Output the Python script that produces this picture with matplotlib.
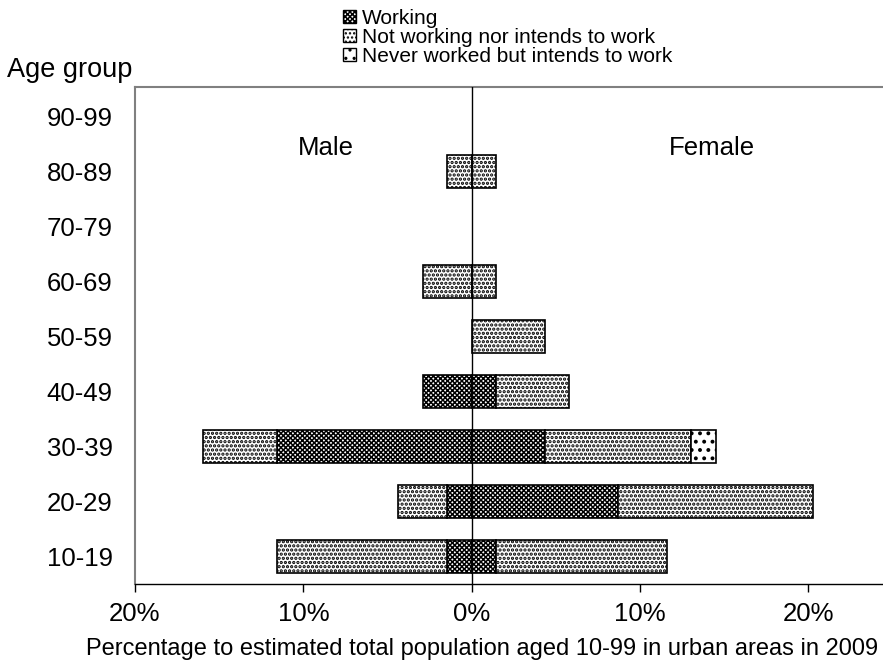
import matplotlib
matplotlib.use("Agg")
import matplotlib.pyplot as plt
from matplotlib.patches import Patch
import numpy as np

plt.rcParams['font.family'] = ['Liberation Sans', 'DejaVu Sans']
plt.rcParams['hatch.linewidth'] = 1.1

# ---- data (percent of estimated total population aged 10-99, urban, 2009)
age_groups = ["10-19", "20-29", "30-39", "40-49", "50-59", "60-69", "70-79", "80-89", "90-99"]
series_names = ["Working", "Not working nor intends to work", "Never worked but intends to work"]

male_working     = [1.45, 1.45, 11.59, 2.90, 0.00, 0.00, 0.0, 0.00, 0.0]
male_notworking  = [10.14, 2.90, 4.35, 0.00, 0.00, 2.90, 0.0, 1.45, 0.0]
male_never       = [0.00, 0.00, 0.00, 0.00, 0.00, 0.00, 0.0, 0.00, 0.0]

female_working    = [1.45, 8.70, 4.35, 1.45, 0.00, 0.00, 0.0, 0.00, 0.0]
female_notworking = [10.14, 11.59, 8.70, 4.35, 4.35, 1.45, 0.0, 1.45, 0.0]
female_never      = [0.00, 0.00, 1.45, 0.00, 0.00, 0.00, 0.0, 0.00, 0.0]

xticks = [-20, -10, 0, 10, 20]
xtick_labels = ["20%", "10%", "0%", "10%", "20%"]

hatches = ["xxxxxxx", "....", ".."]
hatch_lws = [1.1, 1.6, 1.6]


def set_hlw(patch, lw):
    if hasattr(patch, "set_hatch_linewidth"):
        patch.set_hatch_linewidth(lw)


fig = plt.figure(figsize=(8.83, 6.72), dpi=100)
ax = fig.add_axes([135/883, 88/672, 748/883, 497.3/672])

y = np.arange(len(age_groups))
h = 0.6

male = [male_working, male_notworking, male_never]
female = [female_working, female_notworking, female_never]

left_m = np.zeros(len(y))
left_f = np.zeros(len(y))
for i in range(3):
    mv = np.array(male[i])
    fv = np.array(female[i])
    mm = mv > 0
    fm = fv > 0
    b1 = ax.barh(y[mm], -mv[mm], left=-left_m[mm], height=h, color="white", edgecolor="black",
                 linewidth=1.2, hatch=hatches[i])
    b2 = ax.barh(y[fm], fv[fm], left=left_f[fm], height=h, color="white", edgecolor="black",
                 linewidth=1.2, hatch=hatches[i])
    for p in list(b1) + list(b2):
        set_hlw(p, hatch_lws[i])
    left_m += mv
    left_f += fv

ax.axvline(0, color="black", lw=1.0, zorder=3)

ax.set_xlim(-20, 24.44)
ax.set_ylim(-0.5, 8.54)
ax.set_yticks(y)
ax.set_yticklabels(age_groups, fontsize=18.5)
ax.set_xticks(xticks)
ax.set_xticklabels(xtick_labels, fontsize=18.5)
ax.tick_params(axis="y", length=0, pad=16)
ax.tick_params(axis="x", length=6, width=1.0, direction="out", pad=7)

for s in ["top", "left"]:
    ax.spines[s].set_color("#808080")
    ax.spines[s].set_linewidth(1.5)
ax.spines["right"].set_visible(False)
ax.spines["bottom"].set_color("black")
ax.spines["bottom"].set_linewidth(1.0)

ax.text(0.255, 0.877, "Male", transform=ax.transAxes, ha="center", va="center", fontsize=18.5)
ax.text(0.771, 0.877, "Female", transform=ax.transAxes, ha="center", va="center", fontsize=18.5)

ax.set_xlabel("Percentage to estimated total population aged 10-99 in urban areas in 2009",
              fontsize=17)
ax.xaxis.set_label_coords(0.464, -0.108)

fig.text(7/883, 1 - 70/672, "Age group", ha="left", va="center", fontsize=19.5)

handles = [Patch(facecolor="white", edgecolor="black", hatch=hatches[i], linewidth=1.0)
           for i in range(3)]
leg = fig.legend(handles, series_names, loc="upper left", bbox_to_anchor=(343/883, 1 - 9/672),
                 frameon=False, fontsize=15, handlelength=0.6, handleheight=0.6,
                 handletextpad=0.3, labelspacing=0.0, borderpad=0, borderaxespad=0)

fig.savefig("out.png", dpi=100)
